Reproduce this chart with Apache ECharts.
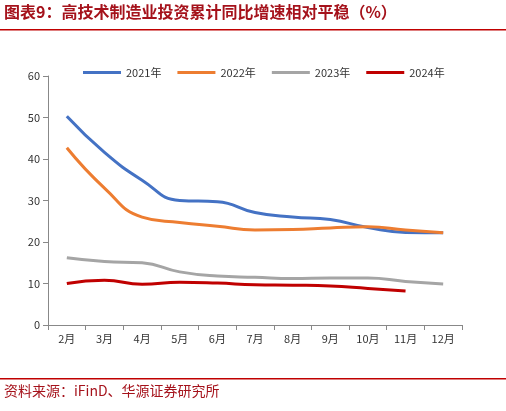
<!DOCTYPE html>
<html><head><meta charset="utf-8">
<script src="https://cdn.jsdelivr.net/npm/echarts@6/dist/echarts.min.js"></script>
<style>body{margin:0;background:#fff}#c{width:506px;height:411px}</style>
</head><body><div id="c"></div>
<script>
const categories=['2月','3月','4月','5月','6月','7月','8月','9月','10月','11月','12月'];
const s2021=[50.3,41.6,34.9,30.0,29.7,27.1,26.0,25.4,23.5,22.3,22.2];
const s2022=[42.7,33.0,26.0,24.7,23.8,22.9,23.0,23.4,23.7,22.9,22.2];
const s2023=[16.2,15.3,15.0,12.8,11.8,11.5,11.2,11.3,11.3,10.5,9.9];
const s2024=[10.0,10.8,9.8,10.3,10.1,9.7,9.6,9.4,8.8,8.2];
const yTicks={min:0,max:60,interval:10};
const c=echarts.init(document.getElementById('c'));
const mk=(n,d,col)=>({name:n,type:'line',data:d,smooth:true,symbol:'none',lineStyle:{width:3,color:col},itemStyle:{color:col}});
c.setOption({
 textStyle:{fontFamily:'Noto Sans CJK SC'},
 graphic:[
  {type:'text',left:4,top:4,style:{text:'图表9：高技术制造业投资累计同比增速相对平稳（%）',fill:'#a5121b',font:'bold 16px "Noto Sans CJK SC"'}},
  {type:'rect',shape:{x:0,y:29,width:506,height:1.5},style:{fill:'#c00000'}},
  {type:'rect',shape:{x:0,y:378,width:506,height:1.5},style:{fill:'#c00000'}},
  {type:'text',left:4,top:384,style:{text:'资料来源：iFinD、华源证券研究所',fill:'#a5121b',font:'14px "Noto Sans CJK SC"'}}
 ],
 legend:{top:62,left:78,itemWidth:38,itemHeight:3,icon:'rect',itemGap:16,textStyle:{fontSize:11,color:'#333'}},
 grid:{left:48,right:44,top:76,bottom:86},
 xAxis:{type:'category',data:categories,boundaryGap:true,axisLine:{lineStyle:{color:'#888'}},axisTick:{show:true,alignWithLabel:false,inside:false,lineStyle:{color:'#888'}},axisLabel:{color:'#333',fontSize:11}},
 yAxis:{type:'value',...yTicks,splitLine:{show:false},axisLine:{show:true,lineStyle:{color:'#888'}},axisTick:{show:true,lineStyle:{color:'#888'}},axisLabel:{color:'#333',fontSize:11}},
 series:[mk('2021年',s2021,'#4472c4'),mk('2022年',s2022,'#ed7d31'),mk('2023年',s2023,'#a5a5a5'),mk('2024年',s2024,'#c00000')]
});
</script></body></html>
